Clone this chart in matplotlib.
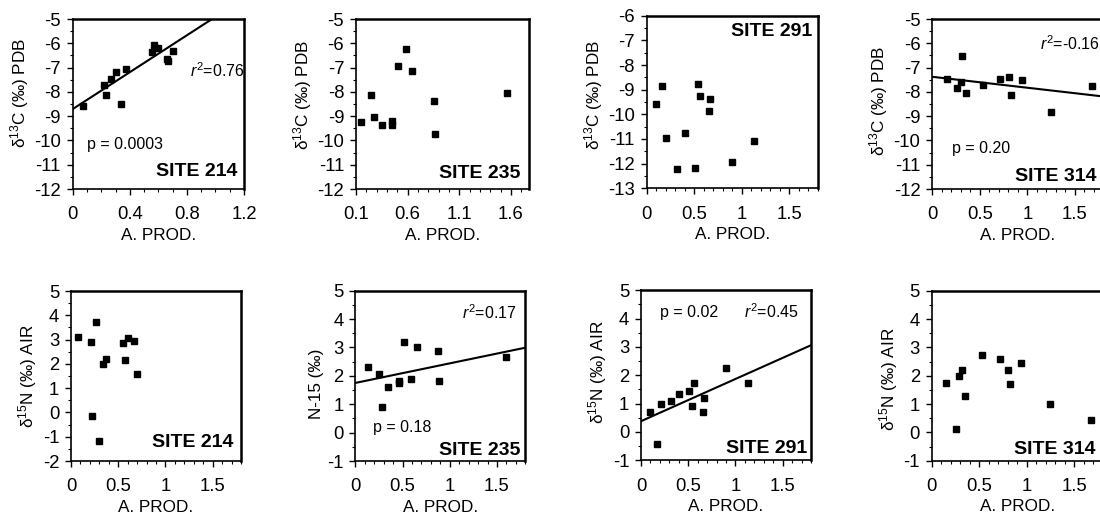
import numpy as np
import matplotlib
matplotlib.use("Agg")
import matplotlib.pyplot as plt
from matplotlib.ticker import MultipleLocator, FixedLocator

plt.rcParams['font.family'] = ['Liberation Sans', 'DejaVu Sans']
plt.rcParams['mathtext.fontset'] = 'custom'
plt.rcParams['mathtext.rm'] = 'Liberation Sans'
plt.rcParams['mathtext.it'] = 'Liberation Sans:italic'
plt.rcParams['axes.unicode_minus'] = False

# ── Data ──────────────────────────────────────────────────────────────────
# carbon, top row
c214_x = [0.07, 0.22, 0.23, 0.27, 0.30, 0.34, 0.37, 0.557, 0.57, 0.60, 0.66, 0.67, 0.70]
c214_y = [-8.58, -7.70, -8.14, -7.48, -7.19, -8.48, -7.04, -6.37, -6.07, -6.21, -6.63, -6.72, -6.30]
c235_x = [0.145, 0.248, 0.277, 0.352, 0.452, 0.452, 0.506, 0.587, 0.645, 0.858, 0.861, 1.558]
c235_y = [-9.23, -8.14, -9.03, -9.38, -9.22, -9.38, -6.92, -6.23, -7.16, -8.36, -9.75, -8.03]
c291_x = [0.099, 0.166, 0.205, 0.318, 0.403, 0.505, 0.541, 0.562, 0.654, 0.668, 0.901, 1.131]
c291_y = [-9.58, -8.85, -10.97, -12.23, -10.77, -12.19, -8.76, -9.27, -9.88, -9.38, -11.92, -11.08]
c314_x = [0.151, 0.256, 0.298, 0.312, 0.354, 0.53, 0.712, 0.804, 0.828, 0.944, 1.246, 1.681]
c314_y = [-7.48, -7.86, -7.59, -6.53, -8.03, -7.73, -7.48, -7.37, -8.11, -7.52, -8.82, -7.75]

# nitrogen, bottom row
n214_x = [0.07, 0.215, 0.268, 0.225, 0.30, 0.338, 0.37, 0.553, 0.567, 0.599, 0.662, 0.694]
n214_y = [3.10, 2.90, 3.74, -0.14, -1.16, 2.00, 2.19, 2.84, 2.16, 3.05, 2.93, 1.59]
n235_x = [0.138, 0.247, 0.279, 0.346, 0.459, 0.459, 0.516, 0.594, 0.65, 0.88, 0.89, 1.597]
n235_y = [2.31, 2.05, 0.90, 1.61, 1.83, 1.76, 3.18, 1.88, 3.00, 2.89, 1.83, 2.66]
n291_x = [0.098, 0.172, 0.207, 0.316, 0.404, 0.506, 0.541, 0.558, 0.667, 0.657, 0.903, 1.131]
n291_y = [0.69, -0.44, 0.98, 1.08, 1.33, 1.44, 0.92, 1.72, 1.20, 0.71, 2.25, 1.72]
n314_x = [0.154, 0.26, 0.288, 0.316, 0.351, 0.53, 0.716, 0.80, 0.828, 0.944, 1.249, 1.677]
n314_y = [1.75, 0.13, 1.98, 2.21, 1.27, 2.72, 2.58, 2.21, 1.72, 2.44, 1.01, 0.45]

# regression lines (intercept, slope) as drawn in the reference
fit_c214 = (-8.71, 3.80)
fit_c314 = (-7.38, -0.45)
fit_n235 = (1.75, 0.69)
fit_n291 = (0.38, 1.49)

W, H = 1100, 520
C_LABEL = 'δ$^{13}$C (‰) PDB'
N_LABEL = 'δ$^{15}$N (‰) AIR'

# panel specs: pixel box (left, right, top, bottom), data, limits, ticks
panels = [
    dict(box=(72.7, 244, 19, 189), x=c214_x, y=c214_y, xlim=(0, 1.2), ylim=(-12, -5),
         xticks=[0, 0.4, 0.8, 1.2], xlabels=['0', '0.4', '0.8', '1.2'], ylabel=C_LABEL, ly=0.568,
         fit=fit_c214, site=('SITE 214', 0.959, 0.10),
         r2=('=0.76', 0.683, 0.695), p=('p = 0.0003', 0.082, 0.26)),
    dict(box=(356, 529, 19, 189), x=c235_x, y=c235_y, xlim=(0.1, 1.775), ylim=(-12, -5),
         xticks=[0.1, 0.6, 1.1, 1.6], xlabels=['0.1', '0.6', '1.1', '1.6'], ylabel=C_LABEL, ly=0.553,
         fit=None, site=('SITE 235', 0.948, 0.094), r2=None, p=None),
    dict(box=(646.7, 818, 15.7, 188.3), x=c291_x, y=c291_y, xlim=(0, 1.8), ylim=(-13, -6),
         xticks=[0, 0.5, 1, 1.5], xlabels=['0', '0.5', '1', '1.5'], ylabel=C_LABEL, ly=0.54,
         fit=None, site=('SITE 291', 0.965, 0.907), r2=None, p=None),
    dict(box=(932.3, 1103.3, 19, 189), x=c314_x, y=c314_y, xlim=(0, 1.8), ylim=(-12, -5),
         xticks=[0, 0.5, 1, 1.5], xlabels=['0', '0.5', '1', '1.5'], ylabel=C_LABEL, ly=0.52,
         fit=fit_c314, site=('SITE 314', 0.96, 0.074),
         r2=('=-0.16', 0.63, 0.857), p=('p = 0.20', 0.113, 0.24)),
    dict(box=(71, 241, 291, 461), x=n214_x, y=n214_y, xlim=(0, 1.8), ylim=(-2, 5),
         xticks=[0, 0.5, 1, 1.5], xlabels=['0', '0.5', '1', '1.5'], ylabel=N_LABEL, ly=0.5,
         fit=None, site=('SITE 214', 0.955, 0.106), r2=None, p=None),
    dict(box=(355.3, 525.3, 290.7, 461), x=n235_x, y=n235_y, xlim=(0, 1.8), ylim=(-1, 5),
         xticks=[0, 0.5, 1, 1.5], xlabels=['0', '0.5', '1', '1.5'], ylabel='N-15 (‰)', ly=0.455,
         fit=fit_n235, site=('SITE 235', 0.969, 0.06),
         r2=('=0.17', 0.625, 0.871), p=('p = 0.18', 0.106, 0.196)),
    dict(box=(641, 811, 290.3, 460.3), x=n291_x, y=n291_y, xlim=(0, 1.8), ylim=(-1, 5),
         xticks=[0, 0.5, 1, 1.5], xlabels=['0', '0.5', '1', '1.5'], ylabel=N_LABEL, ly=0.516,
         fit=fit_n291, site=('SITE 291', 0.975, 0.067),
         r2=('=0.45', 0.606, 0.875), p=('p = 0.02', 0.112, 0.869)),
    dict(box=(931.7, 1102.7, 290.7, 460.7), x=n314_x, y=n314_y, xlim=(0, 1.8), ylim=(-1, 5),
         xticks=[0, 0.5, 1, 1.5], xlabels=['0', '0.5', '1', '1.5'], ylabel=N_LABEL, ly=0.48,
         fit=None, site=('SITE 314', 0.96, 0.063), r2=None, p=None),
]

fig = plt.figure(figsize=(W / 100, H / 100), dpi=100)

for pn in panels:
    l, r, t, b = pn['box']
    ax = fig.add_axes([l / W, 1 - b / H, (r - l) / W, (b - t) / H])
    ax.plot(pn['x'], pn['y'], 's', color='black', markersize=4.4, clip_on=False)

    if pn['fit'] is not None:
        b0, b1 = pn['fit']
        xs = np.array(pn['xlim'])
        ax.plot(xs, b0 + b1 * xs, '-', color='black', linewidth=1.5)

    ax.set_xlim(*pn['xlim'])
    ax.set_ylim(*pn['ylim'])
    ax.xaxis.set_major_locator(FixedLocator(pn['xticks']))
    ax.set_xticklabels(pn['xlabels'])
    ax.xaxis.set_minor_locator(MultipleLocator(0.1))
    ax.yaxis.set_major_locator(MultipleLocator(1))
    ax.yaxis.set_minor_locator(MultipleLocator(0.5))
    ax.tick_params(which='major', direction='out', length=4, width=1, labelsize=13.3)
    ax.tick_params(axis='x', which='major', pad=8.5)
    ax.tick_params(axis='y', which='major', pad=4.5)
    ax.tick_params(which='minor', direction='out', length=2, width=0.8)

    for side in ['left', 'bottom']:
        ax.spines[side].set_linewidth(1.2)
    for side in ['top', 'right']:
        ax.spines[side].set_linewidth(1.8)

    ax.set_xlabel('A. PROD.', fontsize=12.3, labelpad=3)
    ax.set_ylabel(pn['ylabel'], fontsize=12.3, labelpad=2.5)
    ax.yaxis.label.set_y(pn['ly'])

    txt, tx, ty = pn['site']
    ax.text(tx, ty, txt, transform=ax.transAxes, ha='right', va='center',
            fontsize=14, fontweight='bold')
    if pn['r2'] is not None:
        txt, tx, ty = pn['r2']
        ax.text(tx, ty, '$r^2$' + txt, transform=ax.transAxes, ha='left', va='center',
                fontsize=11.5)
    if pn['p'] is not None:
        txt, tx, ty = pn['p']
        ax.text(tx, ty, txt, transform=ax.transAxes, ha='left', va='center', fontsize=11.5)

fig.savefig('out.png', dpi=100)
